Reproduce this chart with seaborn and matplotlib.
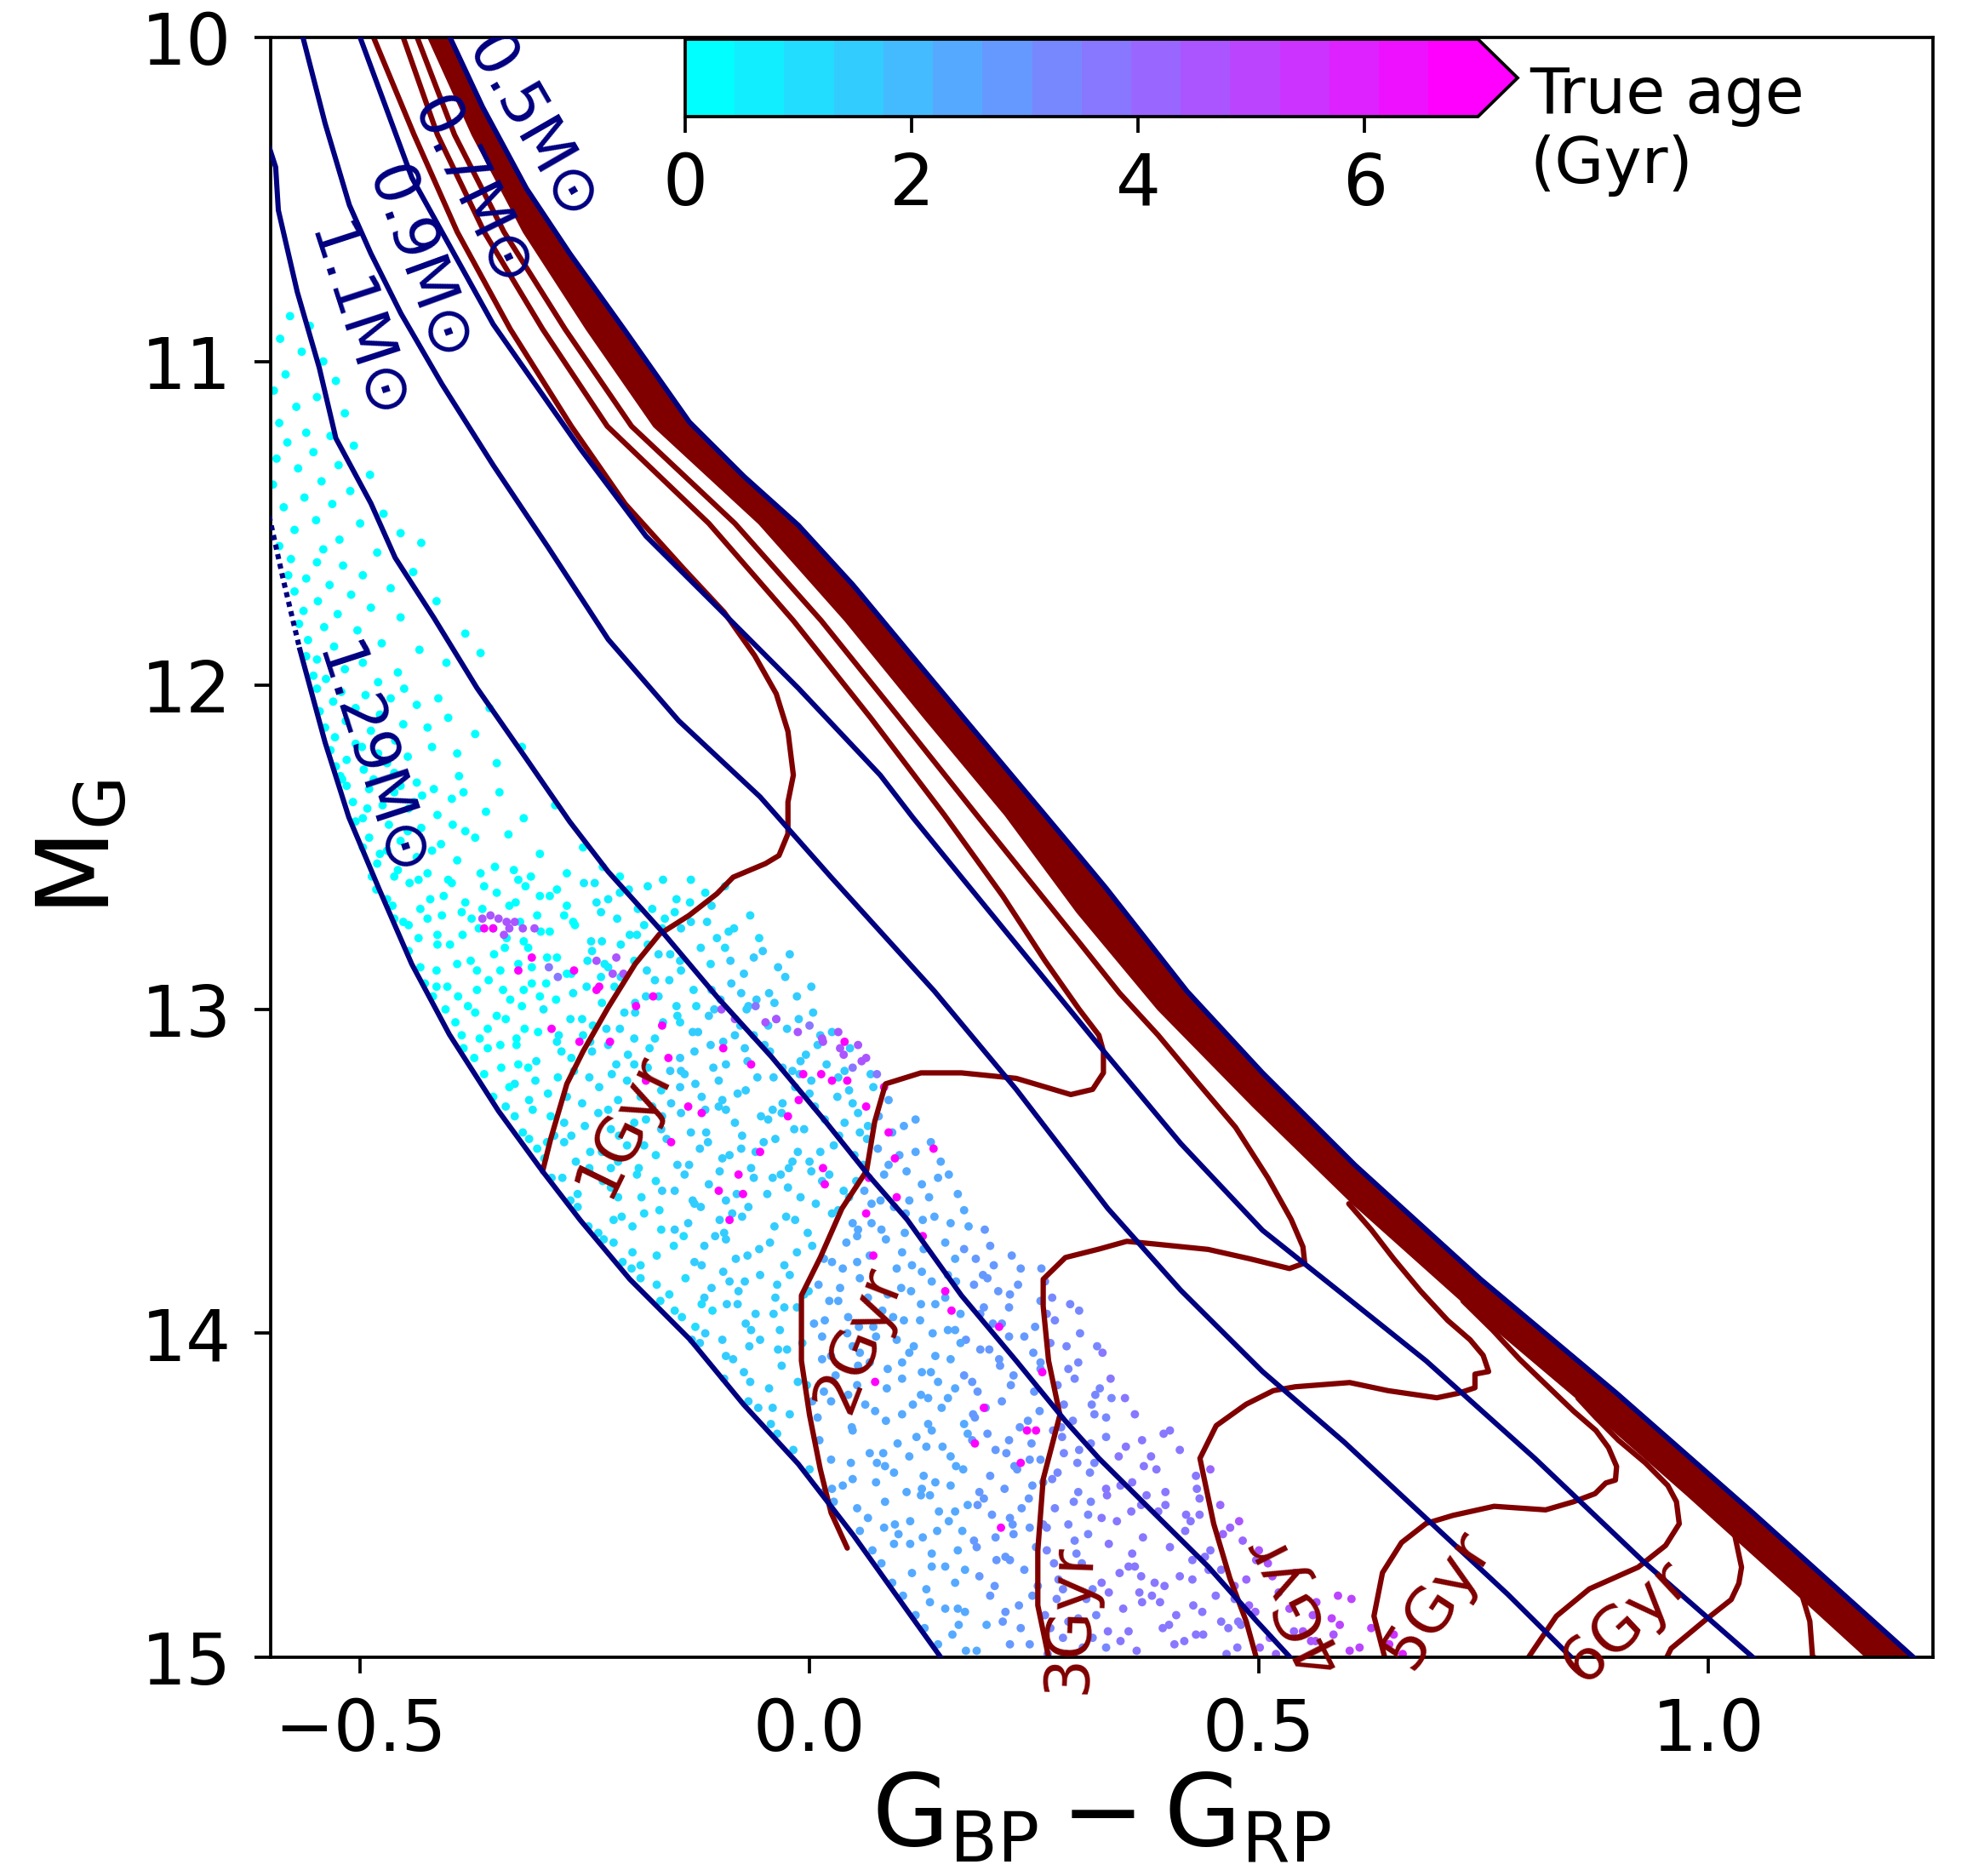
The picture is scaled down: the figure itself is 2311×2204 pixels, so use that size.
import numpy as np
import pandas as pd
import matplotlib
matplotlib.use("Agg")
import matplotlib.pyplot as plt
import matplotlib.colors as mcolors
import seaborn as sns

plt.rcParams['font.family'] = ['DejaVu Sans']
plt.rcParams['mathtext.fontset'] = 'dejavusans'

# ---------------- white-dwarf cooling tracks (navy) ----------------
trk05_x = [-0.410, -0.400, -0.3637, -0.315, -0.2667, -0.206, -0.1337, -0.0729, -0.0123, 0.0484, 0.1086, 0.169, 0.230, 0.2907, 0.330, 0.420, 0.504, 0.607, 0.7466, 0.898, 1.0495, 1.231, 1.24]
trk05_y = [9.95, 10.0, 10.215, 10.466, 10.667, 10.902, 11.187, 11.355, 11.506, 11.69, 11.891, 12.092, 12.294, 12.495, 12.626, 12.944, 13.196, 13.481, 13.833, 14.185, 14.554, 15.007, 15.03]
trk07_x = [-0.505, -0.500, -0.4424, -0.352, -0.2546, -0.182, -0.103, -0.0123, 0.0787, 0.115, 0.169, 0.3222, 0.413, 0.504, 0.595, 0.686, 0.807, 0.928, 1.0525, 1.06]
trk07_y = [9.95, 10.0, 10.433, 10.885, 11.271, 11.539, 11.757, 12.009, 12.277, 12.408, 12.592, 13.112, 13.414, 13.682, 13.883, 14.085, 14.386, 14.705, 15.007, 15.03]
trk09_x = [-0.568, -0.5636, -0.539, -0.512, -0.488, -0.4546, -0.409, -0.352, -0.291, -0.224, -0.1456, -0.055, 0.024, 0.139, 0.230, 0.332, 0.413, 0.504, 0.595, 0.686, 0.777, 0.850, 0.86]
trk09_y = [9.95, 10.0, 10.265, 10.517, 10.667, 10.852, 11.07, 11.32, 11.573, 11.858, 12.109, 12.344, 12.592, 12.944, 13.247, 13.615, 13.867, 14.118, 14.336, 14.571, 14.806, 15.007, 15.03]
trk11_x = [-0.612, -0.601, -0.594, -0.591, -0.570, -0.5455, -0.527, -0.488, -0.461, -0.418, -0.370, -0.315, -0.267, -0.224, -0.164, -0.103, -0.0425, 0.018, 0.0665, 0.1086, 0.169, 0.230, 0.2845, 0.322, 0.383, 0.4435, 0.498, 0.537, 0.545]
trk11_y = [10.32, 10.34, 10.40, 10.533, 10.785, 11.019, 11.237, 11.438, 11.606, 11.791, 12.008, 12.227, 12.42, 12.575, 12.76, 12.961, 13.146, 13.347, 13.515, 13.649, 13.883, 14.085, 14.27, 14.386, 14.554, 14.72, 14.89, 15.007, 15.03]
trk129_x = [-0.567, -0.539, -0.5126, -0.479, -0.4426, -0.4006, -0.346, -0.297, -0.255, -0.200, -0.133, -0.073, -0.0126, 0.049, 0.109, 0.146, 0.155]
trk129_y = [11.89, 12.176, 12.407, 12.628, 12.86, 13.078, 13.314, 13.50, 13.651, 13.833, 14.019, 14.221, 14.403, 14.624, 14.857, 15.0, 15.04]
trk129_dot_x = [-0.612, -0.601, -0.585, -0.567]
trk129_dot_y = [11.36, 11.48, 11.68, 11.89]

track_labels = ["0.5M\u2299", "0.7M\u2299", "0.9M\u2299", "1.1M\u2299", "1.29M\u2299"]
track_label_x = [-0.310, -0.377, -0.436, -0.505, -0.490]
track_label_y = [10.28, 10.48, 10.70, 10.885, 12.236]
track_label_rot = [-60, -64, -70, -72, -72]

# ---------------- isochrones (maroon) ----------------
iso1_x = [-0.297, -0.288, -0.27, -0.252, -0.224, -0.194, -0.167, -0.134, -0.103, -0.085, -0.049, -0.034, -0.024, -0.024, -0.018, -0.024, -0.037, -0.061, -0.095, -0.14, -0.205, -0.265, -0.333, -0.392, -0.44, -0.485, -0.492]
iso1_y = [13.50, 13.40, 13.23, 13.13, 12.994, 12.86, 12.768, 12.71, 12.643, 12.592, 12.55, 12.525, 12.458, 12.36, 12.277, 12.142, 12.026, 11.908, 11.774, 11.64, 11.44, 11.2, 10.9, 10.6, 10.3, 10.0, 9.95]
iso2_x = [0.042, 0.024, 0.012, 0.0, -0.009, -0.009, 0.012, 0.036, 0.0635, 0.0725, 0.0846, 0.124, 0.169, 0.230, 0.2907, 0.315, 0.327, 0.327, 0.322, 0.300, 0.262, 0.215, 0.150, 0.068, -0.018, -0.112, -0.225, -0.297, -0.362, -0.414, -0.452, -0.458]
iso2_y = [14.663, 14.554, 14.42, 14.252, 14.085, 13.883, 13.766, 13.615, 13.498, 13.347, 13.23, 13.196, 13.196, 13.213, 13.263, 13.247, 13.196, 13.13, 13.08, 13.0, 12.85, 12.65, 12.4, 12.1, 11.8, 11.5, 11.2, 10.9, 10.6, 10.3, 10.0, 9.95]
iso3_x = [0.27, 0.266, 0.254, 0.254, 0.26, 0.2786, 0.266, 0.26, 0.26, 0.2847, 0.322, 0.353, 0.383, 0.4435, 0.49, 0.534, 0.551, 0.549, 0.536, 0.51, 0.474, 0.43, 0.388, 0.345, 0.302, 0.273, 0.186, 0.100, 0.013, -0.083, -0.198, -0.272, -0.340, -0.395, -0.4365, -0.443]
iso3_y = [15.05, 15.0, 14.84, 14.67, 14.45, 14.252, 14.085, 13.917, 13.833, 13.766, 13.74, 13.716, 13.724, 13.741, 13.77, 13.80, 13.783, 13.733, 13.649, 13.52, 13.364, 13.22, 13.08, 12.95, 12.80, 12.7, 12.4, 12.1, 11.8, 11.5, 11.2, 10.9, 10.6, 10.3, 10.0, 9.95]
iso4_x = [0.50, 0.497, 0.486, 0.4677, 0.4497, 0.4344, 0.4525, 0.4858, 0.516, 0.5405, 0.601, 0.6436, 0.698, 0.722, 0.7404, 0.7404, 0.7556, 0.7495, 0.735, 0.71, 0.68, 0.65, 0.625, 0.60]
iso4_y = [15.05, 15.0, 14.89, 14.756, 14.588, 14.386, 14.285, 14.219, 14.177, 14.165, 14.152, 14.177, 14.199, 14.185, 14.168, 14.126, 14.118, 14.068, 14.02, 13.96, 13.87, 13.77, 13.68, 13.60]
iso5_x = [0.645, 0.64, 0.628, 0.6375, 0.6587, 0.686, 0.716, 0.7617, 0.819, 0.850, 0.874, 0.886, 0.8967, 0.898, 0.889, 0.875, 0.85, 0.82, 0.79, 0.76, 0.727]
iso5_y = [15.05, 15.0, 14.873, 14.739, 14.646, 14.587, 14.562, 14.534, 14.545, 14.52, 14.495, 14.462, 14.453, 14.411, 14.353, 14.30, 14.24, 14.16, 14.08, 13.99, 13.90]
iso6_x = [0.795, 0.80, 0.831, 0.8677, 0.922, 0.9525, 0.9677, 0.9646, 0.955, 0.93, 0.90, 0.875, 0.855]
iso6_y = [15.05, 15.0, 14.873, 14.789, 14.722, 14.655, 14.588, 14.52, 14.47, 14.40, 14.33, 14.26, 14.20]
iso7_x = [0.945, 0.9586, 0.995, 1.0255, 1.034, 1.037, 1.028, 1.007, 0.985]
iso7_y = [15.05, 14.973, 14.889, 14.822, 14.772, 14.722, 14.604, 14.504, 14.45]
iso8_x = [1.13, 1.128, 1.116, 1.113, 1.104, 1.0795, 1.049]
iso8_y = [15.05, 15.015, 14.998, 14.889, 14.806, 14.705, 14.604]
# bundle of old isochrones merged along the 0.5 Msun track (left edge)
band_left_x = [-0.432, -0.424, -0.375, -0.318, -0.248, -0.173, -0.056, 0.040, 0.128, 0.218, 0.298, 0.388, 0.494, 0.605, 0.726, 0.854, 0.977, 1.097, 1.176, 1.19]
band_left_y = [9.95, 10.0, 10.3, 10.6, 10.9, 11.2, 11.5, 11.8, 12.1, 12.4, 12.7, 13.0, 13.3, 13.6, 13.9, 14.2, 14.5, 14.8, 15.0, 15.05]

iso_labels = ["1Gyr", "2Gyr", "3Gyr", "4Gyr", "5Gyr", "6Gyr"]
iso_label_x = [-0.206, 0.055, 0.290, 0.539, 0.698, 0.908]
iso_label_y = [13.355, 14.018, 14.88, 14.83, 14.822, 14.89]
iso_label_rot = [64, 69, 88, 117, 57, 43]

# ---------------- simulated white dwarfs: "x*1000  M_G*100  age*10" ----------------
pts_upper = """
-578 1086 2 -556 1089 2 -589 1093 2 -565 1097 2 -541 1100 2 -583 1104 2 -527 1106 2 -596 1109 2 -548 1111 2 -571 1114 2 -517 1116 2 -590 1119 2
-560 1122 2 -533 1123 2 -581 1125 2 -507 1126 2 -552 1128 2 -593 1130 2 -524 1132 2 -569 1133 2 -489 1135 2 -543 1137 2 -597 1138 2 -511 1140 2
-562 1142 2 -531 1144 2 -585 1145 2 -474 1147 2 -549 1149 2 -500 1150 2 -573 1152 2 -455 1153 2 -523 1155 2 -590 1157 2 -541 1158 2 -481 1159 2 -432 1156 2
-577 1161 2 -548 1162 2 -519 1163 2 -580 1166 2 -497 1166 2 -560 1167 2 -534 1169 2 -466 1170 2 -573 1171 2 -510 1172 2 -547 1174 2 -415 1174 2
-488 1176 2 -563 1177 2 -525 1178 2 -455 1179 2 -568 1181 2 -540 1182 2 -503 1183 2 -383 1184 2 -558 1186 2 -476 1187 2 -529 1188 2 -434 1189 2
-560 1191 2 -548 1192 2 -497 1193 2 -517 1195 2 -458 1196 2 -552 1197 2 -538 1198 2 -404 1193 2 -480 1199 2 -366 1190 2 -441 1165 2
-548 1201 2 -521 1202 2 -494 1203 2 -466 1204 2 -530 1205 2 -437 1206 2 -505 1207 2 -545 1208 2 -478 1209 2 -402 1210 2 -516 1211 2 -452 1212 2
-539 1213 2 -488 1214 2 -372 1215 2 -528 1216 2 -461 1217 2 -505 1218 2 -420 1219 2 -533 1220 2 -480 1221 2 -447 1222 2 -515 1223 2 -348 1224 2
-527 1225 2 -496 1226 2 -462 1227 2 -390 1228 2 -520 1229 2 -437 1230 2 -392 1221 2 -470 1224 2 -413 1204 2 -356 1207 2 -522 1228 2 -485 1229 2
-320 1219 2 -451 1201 2 -498 1219 2 -425 1213 2
-515 1231 2 -490 1232 2 -462 1233 2 -431 1234 2 -398 1235 2 -508 1236 2 -475 1237 2 -446 1238 2 -360 1239 2 -414 1240 2 -497 1241 2 -505 1242 2
-468 1243 2 -432 1244 2 -383 1245 2 -335 1246 2 -490 1247 2 -455 1248 2 -410 1249 2 -497 1250 2 -470 1251 2 -300 1252 2 -437 1253 2 -392 1254 2
-481 1255 2 -350 1256 2 -458 1257 2 -425 1258 2 -487 1259 2 -270 1258 2 -402 1260 2 -372 1247 2 -440 1236 2 -478 1252 2 -418 1232 2 -345 1233 2
-318 1241 2 -283 1237 2 -252 1250 2 -230 1256 2 -366 1258 2 -447 1245 2 -462 1259 2 -397 1243 2 -329 1257 2 -492 1238 2 -420 1251 2 -385 1233 2
-310 1259 2 -455 1231 2 -211 1259 2
"""

pts_126_130 = """
-482 1263 2 -464 1268 2 -435 1260 2 -422 1266 2 -398 1261 2 -364 1269 2 -348 1264 2 -327 1267 2 -316 1262 2 -289 1265 2 -270 1268 2 -239 1261 5
-224 1266 5 -201 1263 5 -175 1269 5 -163 1260 5 -133 1267 5 -116 1264 5 -94 1262 5 -470 1266 2 -445 1261 2 -433 1269 2 -407 1265 2 -383 1267 2
-362 1262 2 -334 1268 2 -324 1260 2 -300 1265 2 -281 1263 2 -251 1261 5 -237 1267 5 -211 1264 5 -191 1269 5 -180 1262 5 -148 1266 5 -132 1260 5 -109 1268 11
-462 1272 2 -446 1274 2 -425 1272 2 -414 1277 2 -387 1270 2 -368 1275 2 -337 1278 2 -322 1273 2 -299 1276 2 -273 1271 2 -261 1274 2 -231 1279 5
-214 1272 5 -192 1277 5 -164 1275 5 -150 1270 5 -132 1273 11 -103 1278 11 -90 1276 11 -66 1271 11 -452 1273 2 -435 1278 2 -409 1271 2 -386 1277 2
-376 1272 2 -352 1275 2 -318 1279 2 -303 1271 2 -289 1276 2 -263 1273 2 -243 1279 5 -232 1270 5 -200 1277 5 -184 1274 5 -161 1272 5 -143 1275 11
-114 1273 11 -84 1275 11 -56 1278 11
-446 1282 2 -415 1288 2 -400 1280 2 -377 1285 2 -351 1283 2 -339 1281 2 -309 1287 2 -292 1284 2 -270 1289 2 -242 1282 5 -228 1286 5 -210 1280 5
-181 1288 11 -168 1283 11 -144 1285 11 -110 1286 11 -94 1281 11 -73 1289 14 -62 1284 14 -35 1287 14 -433 1287 2 -414 1280 2 -392 1286 2 -370 1288 2
-344 1288 2 -324 1286 2 -313 1281 2 -281 1284 2 -265 1289 2 -247 1285 5 -224 1287 5 -195 1285 5 -180 1280 5 -155 1283 11 -143 1288 11 -121 1281 11
-88 1285 14 -52 1282 14 -22 1283 17
-428 1292 2 -415 1293 2 -391 1296 2 -357 1291 2 -341 1294 2 -320 1299 2 -309 1292 2 -282 1297 2 -263 1295 5 -232 1290 5 -217 1293 5 -194 1298 11
-168 1296 11 -156 1291 11 -126 1299 11 -109 1294 14 -87 1292 14 -59 1297 14 -45 1295 14 -27 1290 17 2 1293 17 -419 1296 2 -403 1293 2 -380 1299 2
-370 1294 2 -333 1297 2 -318 1294 2 -293 1292 2 -300 1296 2 -248 1293 5 -231 1298 5 -210 1290 11 -182 1296 11 -172 1291 11 -148 1299 11 -129 1294 11
-99 1297 14 -76 1295 14 -68 1299 14 -39 1298 17 -14 1296 17
"""

pts_130_134 = """
-405 1300 2 -394 1304 2 -367 1309 2 -348 1302 2 -317 1306 2 -302 1307 2 -279 1308 5 -253 1303 5 -241 1305 5 -211 1306 11 -194 1301 11 -172 1309 11
-144 1304 11 -130 1307 14 -112 1302 14 -83 1308 14 -70 1300 14 -46 1305 14 -12 1303 17 4 1301 17 25 1307 17 -387 1308 2 -372 1301 2 -338 1303 2
-326 1309 2 -358 1306 2 -296 1300 5 -266 1303 5 -252 1308 5 -226 1306 11 -206 1301 11 -195 1309 11 -163 1304 11 -147 1302 11 -124 1307 14 -106 1300 14
-77 1305 14 -62 1308 14 -37 1303 14 -25 1306 17 12 1308 17
-385 1312 2 -373 1315 2 -343 1318 2 -326 1311 2 -304 1316 5 -276 1313 5 -262 1319 5 -244 1310 11 -215 1317 11 -202 1314 11 -178 1312 11 -144 1315 14
-128 1313 14 -107 1318 14 -96 1310 14 -69 1316 14 -50 1311 17 -19 1319 17 -4 1314 17 19 1317 17 45 1312 17 -358 1312 2 -344 1311 2 -324 1317 2
-313 1318 2 -281 1310 5 -265 1315 5 -242 1313 11 -224 1311 11 -195 1317 11 -180 1318 11 -155 1319 14 -143 1319 14 -110 1311 14 -93 1317 14 -72 1312 14
-44 1313 17 -30 1318 17 -10 1316 17 9 1311 17 39 1319 17
-362 1320 2 -328 1323 5 -312 1328 5 -291 1326 5 -280 1321 5 -253 1329 11 -234 1324 11 -203 1322 11 -188 1327 11 -165 1325 11 -139 1320 14 -127 1323 14
-97 1328 14 -80 1326 14 -58 1321 14 -30 1329 17 -16 1324 17 2 1322 17 31 1327 17 44 1325 17 68 1320 17 88 1328 22 -352 1327 2 -334 1324 2
-305 1322 5 -270 1327 11 -245 1321 11 -220 1320 11 -213 1328 11 -182 1321 11 -154 1329 14 -144 1324 14 -120 1327 14 -101 1322 14 -71 1325 14
-40 1321 17 -11 1320 17 0 1326 17 32 1321 17 48 1329 17 71 1324 17
-338 1330 5 -319 1338 5 -288 1333 5 -273 1335 11 -250 1336 11 -224 1331 11 -212 1339 11 -182 1334 11 -165 1337 14 -143 1332 14 -115 1338 14 -101 1330 14
-83 1335 14 -54 1333 14 -41 1331 17 -17 1337 17 17 1334 17 33 1339 17 54 1332 17 65 1336 17 92 1338 22 118 1334 25 -328 1333 5 -308 1331 5
-284 1339 11 -265 1339 11 -235 1332 11 -221 1337 11 -195 1335 11 -175 1330 11 -164 1333 14 -132 1338 14 -116 1331 14 -93 1331 14 -75 1339 14
-46 1334 17 -31 1332 17 -6 1337 17 6 1330 17 39 1335 17 56 1338 17 77 1333 22 105 1336 22
"""

pts_134_138 = """
-312 1340 5 -295 1346 5 -273 1341 11 -245 1349 11 -231 1344 11 -213 1347 11 -184 1342 11 -171 1345 11 -147 1348 14 -113 1341 14 -97 1346 14 -76 1343 14
-65 1349 14 -38 1340 17 -19 1347 17 12 1344 17 27 1342 17 50 1345 17 76 1343 22 88 1348 22 118 1344 25 135 1341 25 -303 1343 5 -292 1341 5
-260 1347 11 -244 1344 11 -221 1349 11 -203 1342 11 -190 1349 11 -159 1340 14 -134 1348 14 -122 1343 14 -89 1345 14 -60 1344 14 -51 1341 17
-23 1349 17 -13 1344 17 0 1347 17 60 1348 17 64 1340 17 100 1345 22 146 1347 25
-287 1352 11 -258 1357 11 -245 1350 11 -221 1355 11 -187 1358 11 -171 1353 11 -150 1356 14 -139 1351 14 -112 1354 14 -93 1359 14 -62 1352 14 -47 1357 17
-24 1355 17 2 1350 17 14 1353 17 44 1358 17 61 1356 22 83 1351 22 111 1359 22 125 1354 25 143 1352 25 165 1357 25 -275 1352 11 -266 1359 11
-230 1353 11 -213 1358 11 -192 1351 11 -164 1356 14 -130 1359 14 -100 1350 14 -81 1357 14 -41 1352 17 -32 1351 17 -10 1358 17 22 1351 17 38 1356 17
52 1353 17 79 1359 22 108 1350 22 133 1358 25 155 1351 25
-258 1361 11 -235 1369 11 -209 1364 11 -197 1367 11 -167 1362 11 -150 1368 14 -128 1360 14 -100 1365 14 -86 1363 14 -68 1361 14 -39 1367 17 -26 1364 17
-2 1369 17 32 1362 17 48 1366 22 69 1360 22 80 1368 22 107 1363 22 126 1365 25 157 1366 25 172 1362 25 195 1368 28 -246 1367 11 -218 1365 11
-184 1363 11 -165 1368 11 -135 1366 14 -121 1361 14 -95 1369 14 -75 1364 14 -16 1365 17 7 1360 17 25 1363 17 54 1368 22 69 1366 22 94 1361 22
106 1369 22 139 1364 25 177 1367 25
-229 1371 11 -208 1378 11 -197 1375 11 -170 1376 11 -151 1373 11 -120 1379 14 -105 1370 14 -82 1377 14 -56 1374 17 -44 1372 17 -14 1375 17 3 1373 17
25 1378 22 53 1370 22 67 1376 22 85 1371 22 114 1379 25 127 1374 25 151 1372 25 185 1377 28 201 1373 28 225 1376 28 -218 1372 11 -188 1379 11
-140 1370 11 -128 1378 14 -117 1373 14 -93 1371 14 -69 1376 14 -28 1379 17 16 1377 22 41 1372 22 53 1378 22 103 1375 25 162 1377 25 172 1374 28
205 1379 28
"""

pts_138_142 = """
-198 1380 11 -170 1385 11 -156 1388 11 -138 1383 11 -109 1386 14 -96 1381 14 -72 1384 14 -38 1389 17 -22 1382 17 -1 1387 17 10 1385 22 37 1380 22
56 1383 22 87 1388 25 102 1386 25 125 1381 25 151 1389 25 163 1384 25 193 1382 28 210 1387 28 232 1385 28 258 1380 28 270 1389 32 -188 1383 11
-117 1389 14 -89 1384 14 -79 1387 14 -55 1382 17 -36 1385 17 -6 1388 17 34 1386 22 65 1389 22 97 1380 25 113 1387 25 136 1384 25 154 1382 25
183 1385 28 198 1383 28 223 1388 28 235 1380 28 262 1384 32
-166 1390 11 -142 1395 11 -108 1393 11 -92 1391 14 -71 1397 14 -60 1394 14 -33 1399 17 -14 1392 17 17 1396 22 32 1390 22 55 1398 22 81 1393 25
93 1395 25 123 1396 25 140 1391 25 162 1399 25 190 1394 28 204 1397 28 222 1392 28 251 1398 28 264 1394 32 290 1391 32 -150 1393 11 -127 1398 11
-120 1391 11 -80 1391 14 -65 1399 14 -40 1394 17 -28 1392 17 5 1397 22 22 1390 22 43 1395 22 71 1398 22 105 1396 25 124 1391 25 154 1399 25
168 1394 25 194 1392 28 214 1397 28 257 1390 28 273 1396 32 300 1393 32
-131 1402 14 -116 1400 14 -93 1407 14 -67 1404 17 -55 1402 17 -25 1405 17 -8 1403 17 14 1408 22 42 1400 22 56 1406 22 74 1401 22 103 1409 25
116 1404 25 140 1407 25 174 1402 28 190 1405 28 211 1408 28 222 1401 28 249 1406 28 268 1403 32 299 1409 32 320 1404 32 -122 1403 14 -97 1402 14
-85 1408 14 -35 1405 17 14 1401 22 24 1407 22 48 1404 22 67 1409 22 97 1402 25 111 1406 25 137 1400 25 157 1408 25 168 1403 25 200 1405 28
239 1401 28 257 1409 28 286 1404 32 301 1400 32 326 1406 35
-95 1414 14 -73 1412 14 -45 1417 17 -31 1410 17 -13 1415 17 16 1418 22 29 1413 22 53 1416 22 87 1411 25 103 1414 25 124 1419 25 135 1412 25
162 1417 25 181 1415 28 212 1410 28 227 1413 28 250 1418 28 276 1416 32 288 1411 32 318 1419 32 335 1414 35 -66 1415 14 -3 1416 17 43 1419 22
54 1410 22 86 1417 25 125 1412 25 143 1415 25 172 1413 28 187 1418 28 224 1416 28 257 1411 28 295 1414 32 323 1417 32
"""

pts_142_146 = """
-68 1421 14 -41 1423 14 -22 1425 17 9 1426 22 24 1421 22 47 1429 22 73 1424 22 85 1427 22 115 1422 25 132 1428 25 154 1420 25 182 1425 28
196 1423 28 214 1421 28 243 1427 28 256 1424 28 280 1429 32 314 1422 32 330 1426 32 351 1420 35 362 1425 35 -57 1423 14 -43 1428 14 3 1421 22
62 1422 22 103 1425 25 132 1420 25 147 1423 25 172 1428 25 184 1426 28 234 1429 28 283 1422 32 293 1427 32 317 1425 32 336 1420 32
-36 1431 17 -18 1436 17 11 1433 22 24 1439 22 48 1430 22 82 1437 22 98 1434 25 119 1432 25 130 1435 25 157 1438 25 176 1431 25 207 1436 28
222 1433 28 245 1439 28 271 1430 32 283 1437 32 313 1434 32 330 1432 32 352 1435 35 380 1438 35 394 1431 38 412 1436 38 67 1437 22 111 1438 25
136 1430 25 148 1435 25 181 1433 28 198 1431 28 219 1437 28 247 1434 28 257 1439 28 281 1432 32 300 1436 32 344 1438 35 370 1433 35 401 1430 38
0 1442 17 16 1449 22 37 1447 22 48 1445 22 75 1440 22 94 1443 25 125 1448 25 140 1446 25 163 1441 25 189 1449 28 201 1444 28 231 1442 28
248 1447 28 270 1445 32 298 1440 32 312 1443 32 330 1448 35 359 1446 35 372 1441 35 396 1449 38 430 1444 38 446 1442 42 25 1448 22 46 1440 22
74 1446 22 84 1441 22 108 1449 25 127 1444 25 157 1447 25 171 1442 25 217 1448 28 228 1441 28 260 1446 28 276 1443 32 299 1449 32 317 1440 32
346 1447 35 386 1442 38 431 1448 38
27 1452 22 53 1454 22 65 1457 22 95 1459 22 112 1458 25 134 1450 25 162 1455 25 176 1453 25 194 1451 28 223 1457 28 236 1454 28 260 1459 32
294 1452 32 310 1456 32 331 1450 35 342 1458 35 369 1453 35 388 1455 38 419 1456 38 434 1451 38 457 1453 42 478 1458 46 84 1452 22 124 1450 25
144 1455 25 155 1458 25 187 1453 28 203 1456 28 226 1459 28 244 1451 28 273 1454 32 288 1459 32 313 1452 32 325 1457 35 358 1455 35 375 1450 35
396 1453 38 424 1458 38 434 1456 38
"""

pts_146_150 = """
56 1461 22 70 1467 22 99 1462 22 112 1465 25 136 1468 25 170 1461 25 186 1466 28 207 1463 28 218 1469 28 245 1460 28 264 1467 32 295 1464 32
310 1462 32 333 1465 35 359 1468 35 371 1463 35 401 1466 38 418 1461 38 440 1469 38 468 1460 42 482 1464 42 500 1467 46 83 1460 22 94 1465 22
126 1463 25 142 1461 25 165 1467 25 183 1464 28 227 1462 28 252 1466 28 264 1460 32 297 1468 32 446 1467 38 460 1462 42
80 1471 22 114 1474 22 130 1479 25 151 1472 25 162 1477 25 189 1475 28 208 1470 28 239 1473 28 254 1478 28 277 1476 32 303 1471 32 315 1479 32
345 1474 35 362 1472 35 384 1477 35 412 1475 38 426 1470 38 444 1473 38 473 1478 42 486 1476 42 510 1471 46 540 1474 46 92 1477 22 136 1472 25
173 1473 25 206 1478 28 223 1470 28 272 1471 32 282 1479 32 325 1477 35 355 1472 35 369 1475 35 395 1478 38 426 1476 38 458 1473 38 497 1470 42
515 1475 46
104 1481 22 134 1483 22 151 1485 25 173 1486 25 201 1481 28 215 1489 28 233 1484 28 262 1487 32 275 1482 32 299 1488 32 333 1480 35 349 1485 35
370 1483 35 381 1481 35 408 1487 38 427 1484 38 458 1489 38 473 1482 38 496 1486 42 522 1480 42 534 1485 46 564 1483 46 581 1488 49 603 1482 49
118 1487 22 165 1485 25 218 1486 28 248 1481 28 288 1489 32 308 1482 32 319 1487 32 367 1480 35 390 1483 35 437 1486 38 452 1481 38 477 1489 38
489 1484 42 560 1487 46 588 1481 49
128 1491 22 159 1493 22 174 1498 25 197 1490 25 223 1496 28 235 1491 28 265 1499 32 282 1494 32 304 1497 32 332 1492 35 346 1495 35 364 1498 35
393 1491 35 406 1496 35 430 1493 38 464 1499 38 480 1490 38 501 1497 42 512 1494 42 539 1492 42 558 1495 46 583 1493 46 601 1498 49 625 1491 49
645 1496 53 143 1496 22 166 1490 22 186 1498 25 245 1496 28 268 1491 32 286 1499 32 315 1494 32 330 1497 32 355 1492 35 400 1490 35 417 1495 38
438 1493 38 466 1491 38 476 1497 38 519 1499 42 549 1492 46 563 1495 46 590 1490 49 612 1497 49 650 1493 53 660 1499 57
"""

pts_purple = """
-364 1272 45 -355 1271 45 -346 1272 45 -337 1273 45 -328 1273 45 -319 1275 45 -306 1275 45 -340 1277 45 -334 1275 45 -237 1285 45 -219 1289 45
-207 1289 45 -215 1284 45 -98 1300 45 -83 1303 45 -49 1304 45 -37 1303 45 -13 1307 45 14 1309 45 32 1307 45 38 1314 45 54 1311 45 63 1315 45
15 1310 45 34 1312 45 58 1316 45 -290 1287 35 -280 1290 35 -60 1299 35 0 1305 35 48 1318 35 75 1320 35
"""

pts_magenta = """
-362 1275 80 -352 1275 80 -324 1288 80 -309 1284 80 -287 1306 80 -262 1288 80 -256 1310 80 -234 1293 80 -222 1310 80 -193 1299 80 -174 1296 80
-164 1305 80 -157 1315 80 -154 1341 80 -135 1330 80 -120 1332 80 -96 1312 80 -89 1365 80 -79 1351 80 -74 1357 80 -65 1317 80 -55 1344 80
-24 1333 80 -12 1328 80 -7 1320 80 13 1320 80 15 1349 80 17 1354 80 25 1322 80 39 1310 80 42 1322 80 63 1330 80 63 1363 80 66 1352 80
71 1376 80 83 1324 80 88 1338 80 95 1346 80 97 1358 80 126 1370 80 151 1387 80 158 1393 80 184 1434 80 194 1423 80 211 1398 80 235 1440 80
242 1430 80 252 1430 80 259 1412 80 213 1460 80 73 1415 80 138 1343 80 -101 1356 80 -182 1322 80 -237 1294 80
"""

age_ticks = [0, 2, 4, 6]
age_max = 7.0
n_color_levels = 16


def parse_points(block):
    v = np.array(block.split(), dtype=float).reshape(-1, 3)
    return v[:, 0] / 1000.0, v[:, 1] / 100.0, v[:, 2] / 10.0


blocks = [pts_upper, pts_126_130, pts_130_134, pts_134_138, pts_138_142, pts_142_146, pts_146_150,
          pts_purple, pts_magenta]
xs, ys, ages = [], [], []
for b in blocks:
    px, py, pa = parse_points(b)
    xs.append(px); ys.append(py); ages.append(pa)
df = pd.DataFrame({"color": np.concatenate(xs), "mag": np.concatenate(ys), "age": np.concatenate(ages)})

cmap = plt.get_cmap("cool").resampled(n_color_levels).with_extremes(over="#ff00ff")
norm = mcolors.Normalize(vmin=0, vmax=age_max)

NAVY = "#000080"
MAROON = "#800000"

fig = plt.figure(figsize=(2311 / 300, 2204 / 300), dpi=300)
ax = fig.add_axes([0.1374, 0.1166, 0.8453, 0.8634])

sns.scatterplot(data=df, x="color", y="mag", hue="age", palette=cmap, hue_norm=norm,
                s=5.6, linewidth=0, edgecolor="none", legend=False, ax=ax, zorder=1)

# bundle of old isochrones
ax.fill(band_left_x + trk05_x[::-1], band_left_y + trk05_y[::-1], color=MAROON, lw=0.6, zorder=2)

lw_r = 1.5
for ix, iy in [(iso1_x, iso1_y), (iso2_x, iso2_y), (iso3_x, iso3_y), (iso4_x, iso4_y),
               (iso5_x, iso5_y), (iso6_x, iso6_y), (iso7_x, iso7_y), (iso8_x, iso8_y)]:
    ax.plot(ix, iy, color=MAROON, lw=lw_r, zorder=2.5, solid_capstyle="round", solid_joinstyle="round")

lw_b = 1.45
for tx, ty in [(trk05_x, trk05_y), (trk07_x, trk07_y), (trk09_x, trk09_y), (trk11_x, trk11_y), (trk129_x, trk129_y)]:
    ax.plot(tx, ty, color=NAVY, lw=lw_b, zorder=3, solid_joinstyle="round")
ax.plot(trk129_dot_x, trk129_dot_y, color=NAVY, lw=lw_b, ls=(0, (1.0, 0.9)), zorder=3)

for lab, lx, ly, rot in zip(track_labels, track_label_x, track_label_y, track_label_rot):
    ax.text(lx, ly, lab, color=NAVY, fontsize=17.5, rotation=rot, rotation_mode="anchor",
            ha="center", va="center", zorder=5, clip_on=True)
for lab, lx, ly, rot in zip(iso_labels, iso_label_x, iso_label_y, iso_label_rot):
    ax.text(lx, ly, lab, color=MAROON, fontsize=17.5, rotation=rot, rotation_mode="anchor",
            ha="center", va="center", zorder=5, clip_on=False)

ax.set_xlim(-0.6, 1.25)
ax.set_ylim(15, 10)
ax.set_xticks([-0.5, 0.0, 0.5, 1.0])
ax.set_yticks([10, 11, 12, 13, 14, 15])
ax.tick_params(labelsize=20, length=4.5, width=0.9, pad=6.5)
ax.set_xlabel(r"$\mathrm{G_{BP}-G_{RP}}$", fontsize=28, labelpad=1)
ax.set_ylabel(r"$\mathrm{M_G}$", fontsize=28, labelpad=3)
for sp in ax.spines.values():
    sp.set_linewidth(0.9)

# colour bar inset (body + triangle = 978 px wide)
cax = fig.add_axes([805 / 2311, 1 - 137 / 2204, 978 / 2311, 91 / 2204])
sm = plt.cm.ScalarMappable(norm=norm, cmap=cmap)
cb = fig.colorbar(sm, cax=cax, orientation="horizontal", extend="max", ticks=age_ticks)
cb.ax.tick_params(labelsize=20, length=4.5, width=0.9, pad=5)
cb.outline.set_linewidth(0.9)
fig.text(1797 / 2311, 1 - 76 / 2204, "True age\n(Gyr)", fontsize=18, ha="left", va="top", linespacing=1.15)

fig.savefig("out.png", dpi=300)
